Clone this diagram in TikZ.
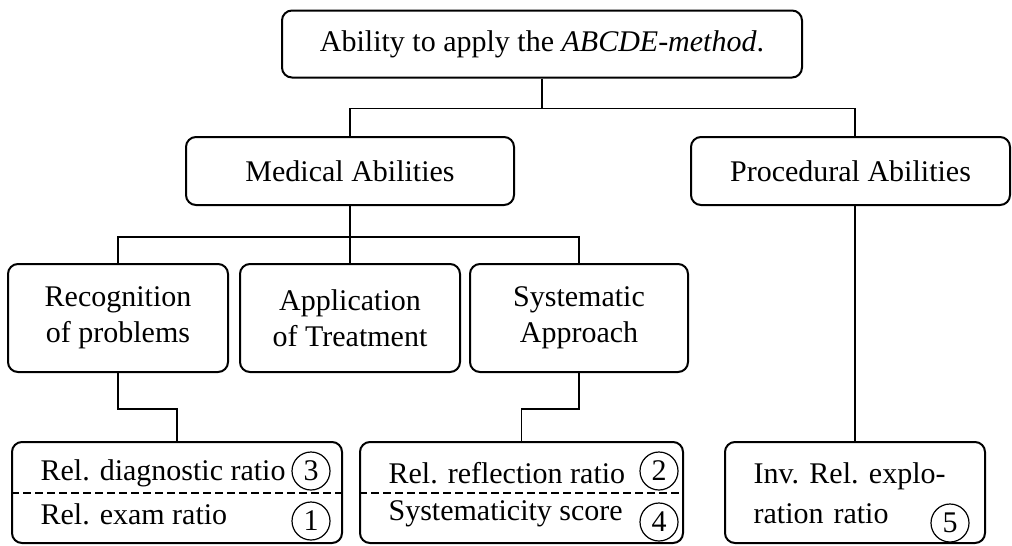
\documentclass[tikz,border=0pt]{standalone}
\usepackage{fontspec}
\setmainfont{Liberation Serif}

\begin{document}
\begin{tikzpicture}[x = 0.5pt, y = -0.5pt,
		box/.style = {draw, rounded corners = 5pt, line width = 1pt, inner sep = 0pt, align = center},
		num/.style = {draw, circle, line width = 0.6pt, minimum size = 19pt, inner sep = 0pt},
		txt/.style = {anchor = west, inner sep = 0pt},
		font = \fontsize{15}{18}\selectfont, line width = 0.6pt]
		\useasboundingbox (0, 0) rectangle (1012, 546);
		%%%%%%%%%%%%%
		\node [box, minimum width = 260pt, minimum height = 33.5pt] (top) at (542, 44) {Ability to apply the \textit{ABCDE-method}.};
		\node [box, minimum width = 164pt, minimum height = 34pt] (med) at (350, 171) {Medical Abilities};
		\node [box, minimum width = 159.5pt, minimum height = 34pt] (proc) at (850.5, 171) {Procedural Abilities};
		\node [box, minimum width = 110pt, minimum height = 54pt] (recog) at (118, 318) {Recognition\\of problems};
		\node [box, minimum width = 110pt, minimum height = 54pt] (appl) at (350, 318) {Application\\of Treatment};
		\node [box, minimum width = 109pt, minimum height = 54pt] (syst) at (579, 318) {Systematic\\Approach};
		%%%%%%%%%%%%%
		\node [box, minimum width = 165pt, minimum height = 50.5pt] (diag) at (177, 492.5) {};
		\node [box, minimum width = 161.5pt, minimum height = 50.5pt] (refl) at (521.5, 492.5) {};
		\node [box, minimum width = 130pt, minimum height = 50.5pt] (expl) at (855, 492.5) {};
		%%%%%%%%%%%%%
		\node [txt] (d1) at (40, 473) {Rel. diagnostic ratio};
		\node [txt] (d2) at (40, 514) {Rel. exam ratio};
		\node [num] (n3) at (311, 471) {3};
		\node [num] (n1) at (311, 521) {1};
		\draw [dashed, dash pattern = on 4pt off 2pt] (diag.west |- 0, 493) to (diag.east |- 0, 493);
		\node [txt] (r1) at (388, 473) {Rel. reflection ratio};
		\node [txt] (r2) at (388, 514) {Systematicity score};
		\node [num] (n2) at (659, 471) {2};
		\node [num] (n4) at (659, 522) {4};
		\draw [dashed, dash pattern = on 4pt off 2pt] (refl.west |- 0, 493) to (refl.east |- 0, 493);
		\node [txt, text width = 96pt, align = left, font = \fontsize{15}{20}\selectfont] (e1) at (753, 493) {Inv.\hfill Rel.\hfill explo-\\ration ratio};
		\node [num] (n5) at (950, 523) {5};
		%%%%%%%%%%%%%
		\draw (top.south) to ++(0, 30) -| (med.north);
		\draw (top.south) to ++(0, 30) -| (proc.north -| 855, 0);
		\draw (med.south) to ++(0, 31) -| (recog.north);
		\draw (med.south) to (appl.north);
		\draw (med.south) to ++(0, 31) -| (syst.north);
		\draw (recog.south) to ++(0, 36) -| (diag.north);
		\draw (syst.south) to ++(0, 36) -| (refl.north);
		\draw (expl.north |- proc.south) to (expl.north);
\end{tikzpicture}
\end{document}
